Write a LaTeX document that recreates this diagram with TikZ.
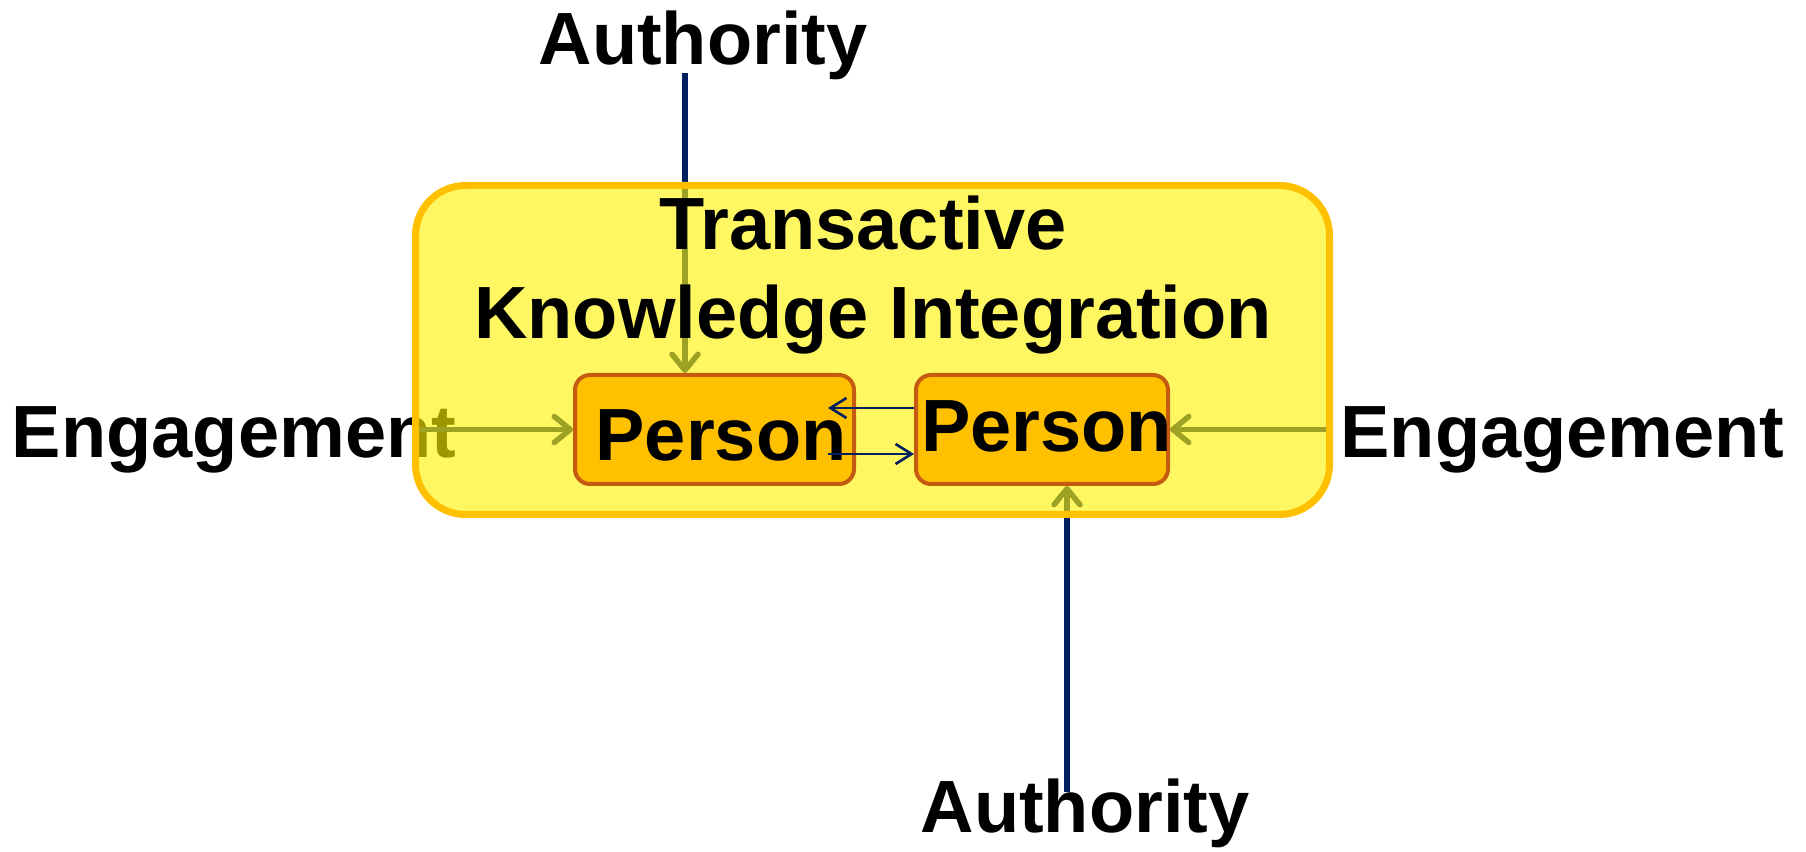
\documentclass[tikz,border=0pt]{standalone}
\usepackage{fontspec}
\setmainfont{Liberation Sans}
\usepackage{tikz}
\usetikzlibrary{arrows.meta,positioning}
\definecolor{navy}{HTML}{002060}
\definecolor{amber}{HTML}{FFC000}
\definecolor{rust}{HTML}{C55A11}
\pgfdeclarelayer{back}
\pgfsetlayers{back,main}
\tikzset{
  big/.style={font=\fontsize{37}{44.5}\selectfont\bfseries},
  group/.style={rectangle,rounded corners=25pt,draw=amber,line width=3.5pt,
    fill=yellow,fill opacity=0.62,draw opacity=1,minimum width=457pt,
    minimum height=164.5pt,inner sep=0pt},
  person/.style={rectangle,rounded corners=7.5pt,draw=rust,line width=2pt,
    fill=amber,minimum height=54.5pt,inner sep=0pt},
  flow/.style={draw=navy,line width=2.75pt,
    -{Straight Barb[length=8pt,width=13pt,line cap=round,line join=round]}},
  link/.style={draw=navy,line width=1.3pt,
    -{Straight Barb[length=8pt,width=10pt]}}
}

\begin{document}
\begin{tikzpicture}[x=0.5pt,y=0.5pt,node distance=163.75pt,on grid]
    \useasboundingbox (0,0) rectangle (1806,852);
    \node[group] (team) at (872.5,502) {};
    \node[person,minimum width=139.5pt,big,
      label={[big,xshift=3.25pt,yshift=-2.75pt]center:Person}] (pa) at (714.5,422.5) {};
    \node[person,minimum width=126pt,big,
      label={[big,xshift=2.25pt,yshift=1.75pt]center:Person}] (pb) [right = of pa] {};
    \node[big,align=center] (title) at (873,577) {Transactive\hspace*{10pt}\\Knowledge Integration};
    \draw[link] ([yshift=10.75pt]pb.west) -- ++(-43pt,0);
    \draw[link] ([xshift=-14pt,yshift=-12.25pt]pa.east) -- ([yshift=-12.25pt]pb.west);
    \begin{pgfonlayer}{back}
    \node[big,anchor=base] (engl) at (234,394) {Engagement};
    \node[big,anchor=base] (engr) at (1562.5,394) {Engagement};
    \node[big,anchor=base] (autht) at (703,787) {Authority};
    \node[big,anchor=base] (authb) at (1085,19) {Authority};
    \coordinate (at) at (685,779);
    \coordinate (ab) at (1067,60);
    \draw[flow] (at) -- (at |- pa.north);
    \draw[flow] (ab) -- (ab |- pb.south);
    \draw[flow] (team.west |- pa.west) -- (pa.west);
    \draw[flow] (team.east |- pb.east) -- (pb.east);
    \end{pgfonlayer}
\end{tikzpicture}
\end{document}
